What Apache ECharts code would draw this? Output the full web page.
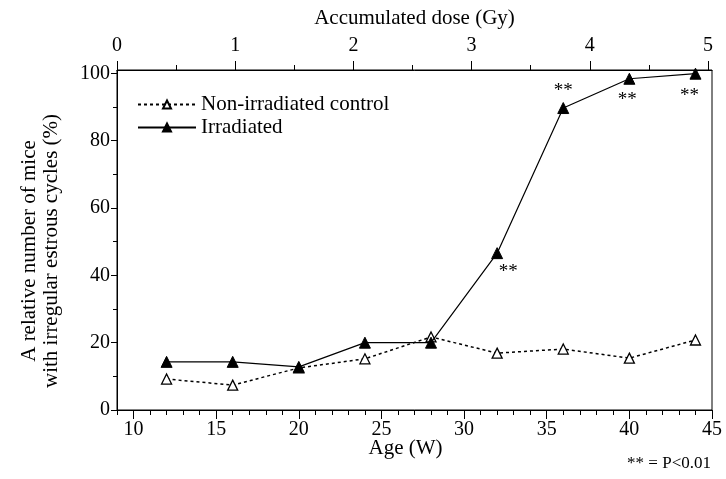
<!DOCTYPE html>
<html>
<head>
<meta charset="utf-8">
<script src="https://cdn.jsdelivr.net/npm/echarts@6/dist/echarts.min.js"></script>
<style>
  html, body { margin: 0; padding: 0; background: #fff; }
  #chart { width: 726px; height: 479px; }
</style>
</head>
<body>
<div id="chart"></div>
<script>
// ages (weeks) and the two groups
var ages = [12, 16, 20, 24, 28, 32, 36, 40, 44];
var control = [9.2, 7.4, 12.5, 15.2, 21.7, 16.9, 18.1, 15.4, 20.8];
var irradiated = [14.3, 14.3, 12.8, 20, 20, 46.6, 89.7, 98.4, 99.9];
var sigAges = [32, 36, 40, 44];

var ageTicks = [10, 15, 20, 25, 30, 35, 40, 45];
var ageMinor = [9, 11, 12, 13, 14, 16, 17, 18, 19, 21, 22, 23, 24, 26, 27, 28, 29, 31, 32, 33, 34, 36, 37, 38, 39, 41, 42, 43, 44];
var doseTicks = [0, 1, 2, 3, 4, 5];
var doseMinor = [0.5, 1.5, 2.5, 3.5, 4.5];
var pctTicks = [0, 20, 40, 60, 80, 100];
var pctMinor = [10, 30, 50, 70, 90];

var font = "'Liberation Serif', 'DejaVu Serif', serif";
var tickTxt = { fontFamily: font, fontSize: 20, color: '#000' };
var nameTxt = { fontFamily: font, fontSize: 21, color: '#000' };

// where the ** goes for each significant point
var sigLabel = {
    32: { position: 'bottom', offset: [11, -2] },
    36: { position: 'top', offset: [0, 3] },
    40: { position: 'bottom', offset: [-2, 1] },
    44: { position: 'bottom', offset: [-6, 2] }
};

var irrData = ages.map(function (a, i) {
    var item = { value: [a, irradiated[i]] };
    if (sigAges.indexOf(a) >= 0) {
        item.label = Object.assign({ show: true, formatter: '**' }, sigLabel[a]);
    }
    return item;
});

var myChart = echarts.init(document.getElementById('chart'));
var option = {
    animation: false,
    backgroundColor: '#fff',
    textStyle: { fontFamily: font },
    grid: { left: 117, right: 14, top: 70, bottom: 69, show: true, borderColor: '#000', borderWidth: 1, backgroundColor: 'transparent' },
    legend: {
        left: 137, top: 94, padding: 0, orient: 'vertical', itemGap: 2, itemWidth: 58, itemHeight: 10,
        textStyle: nameTxt,
        data: ['Non-irradiated control', 'Irradiated']
    },
    xAxis: [{
        type: 'value', position: 'bottom', min: 9, max: 45,
        name: 'Age (W)', nameLocation: 'middle', nameGap: 28, nameMoveOverlap: false,
        nameTextStyle: Object.assign({ padding: [0, 18, 0, 0] }, nameTxt),
        axisLine: { lineStyle: { color: '#000', width: 1 } },
        axisTick: { length: 9, lineStyle: { color: '#000' }, customValues: ageTicks },
        axisLabel: Object.assign({ margin: 10, customValues: ageTicks }, tickTxt),
        splitLine: { show: false }
    }, {
        type: 'value', position: 'bottom', min: 9, max: 45,
        axisLine: { show: false },
        axisTick: { length: 5, lineStyle: { color: '#000' }, customValues: ageMinor },
        axisLabel: { show: false },
        splitLine: { show: false }
    }, {
        type: 'value', position: 'top', min: 0, max: 5.034,
        name: 'Accumulated dose (Gy)', nameLocation: 'middle', nameGap: 41, nameTextStyle: nameTxt,
        axisLine: { lineStyle: { color: '#000', width: 1 } },
        axisTick: { length: 9, lineStyle: { color: '#000' }, customValues: doseTicks },
        axisLabel: Object.assign({ margin: 14, customValues: doseTicks }, tickTxt),
        splitLine: { show: false }
    }, {
        type: 'value', position: 'top', min: 0, max: 5.034,
        axisLine: { show: false },
        axisTick: { length: 5, lineStyle: { color: '#000' }, customValues: doseMinor },
        axisLabel: { show: false },
        splitLine: { show: false }
    }],
    yAxis: [{
        type: 'value', min: 0, max: 101,
        name: 'A relative number of mice\nwith irregular estrous cycles (%)',
        nameLocation: 'middle', nameRotate: 90, nameGap: 55,
        nameTextStyle: Object.assign({ lineHeight: 22, padding: [0, 22, 0, 0] }, nameTxt),
        axisLine: { show: true, lineStyle: { color: '#000', width: 1 } },
        axisTick: { length: 6, lineStyle: { color: '#000' }, customValues: pctTicks },
        axisLabel: Object.assign({ margin: 7, customValues: pctTicks }, tickTxt),
        splitLine: { show: false }
    }, {
        type: 'value', min: 0, max: 101, position: 'left',
        axisLine: { show: false },
        axisTick: { length: 4, lineStyle: { color: '#000' }, customValues: pctMinor },
        axisLabel: { show: false },
        splitLine: { show: false }
    }],
    series: [{
        name: 'Non-irradiated control', type: 'line', xAxisIndex: 0, yAxisIndex: 0,
        data: ages.map(function (a, i) { return [a, control[i]]; }),
        symbol: 'triangle', symbolSize: 10,
        lineStyle: { color: '#000', width: 1.5, type: [3, 3] },
        itemStyle: { color: '#fff', borderColor: '#000', borderWidth: 1.3 },
        z: 2
    }, {
        name: 'Irradiated', type: 'line', xAxisIndex: 0, yAxisIndex: 0,
        data: irrData,
        symbol: 'triangle', symbolSize: 11,
        lineStyle: { color: '#000', width: 1.2 },
        itemStyle: { color: '#000', borderColor: '#000', borderWidth: 1 },
        label: { show: false, fontFamily: font, fontSize: 19, color: '#000' },
        z: 3
    }],
    graphic: [{
        type: 'text', right: 15, top: 455,
        style: { text: '** = P<0.01', font: '17px ' + font, fill: '#000' }
    }]
};
myChart.setOption(option);
</script>
</body>
</html>
